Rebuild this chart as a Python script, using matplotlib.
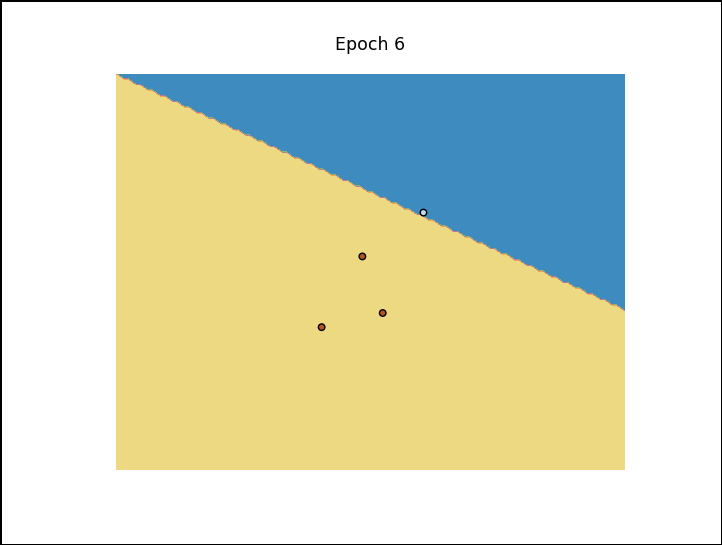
import numpy as np
import matplotlib
matplotlib.use("Agg")
import matplotlib.pyplot as plt
from matplotlib.colors import ListedColormap

# training points and labels
X1 = [0.01, 0.31, 0.21, 0.51]
X2 = [0.01, 0.11, 0.51, 0.82]
LABELS = [0, 0, 0, 1]

# model after epoch 6: w1*x1 + w2*x2 + b > 0 -> class 1
W = [2.0, 3.0]
B = -3.42
EPOCH = 6

STEP = 0.02
XLIM = (-1.0, 1.5)
YLIM = (-1.0, 1.8)

region_colors = ["#EDD982", "#F2A455", "#B77AA0", "#8DB36E", "#3D8BBF"]
region_levels = [0.0, 0.2, 0.4, 0.6, 0.8, 1.0]
point_cmap = ListedColormap(["#B3531F", "#BBDAEA"])

x1 = np.array(X1)
x2 = np.array(X2)
xx, yy = np.meshgrid(np.arange(XLIM[0], XLIM[1] + STEP, STEP),
                     np.arange(YLIM[0], YLIM[1] + STEP, STEP))
zz = (W[0] * xx + W[1] * yy + B > 0).astype(float)

fig = plt.figure(figsize=(7.22, 5.45), dpi=100, edgecolor="black", linewidth=2)
ax = fig.add_axes([116 / 722, 1 - 470 / 545, 509 / 722, 396 / 545])

ax.contourf(xx, yy, zz, levels=region_levels, colors=region_colors)
ax.scatter(x1, x2, c=LABELS, cmap=point_cmap, edgecolors="black", s=22, linewidths=1, zorder=3)
ax.set_xlim(*XLIM)
ax.set_ylim(*YLIM)
ax.axis("off")
ax.set_title(f"Epoch {EPOCH}", fontsize=12.5, pad=17.5)

fig.savefig("out.png", dpi=100, edgecolor="black")
